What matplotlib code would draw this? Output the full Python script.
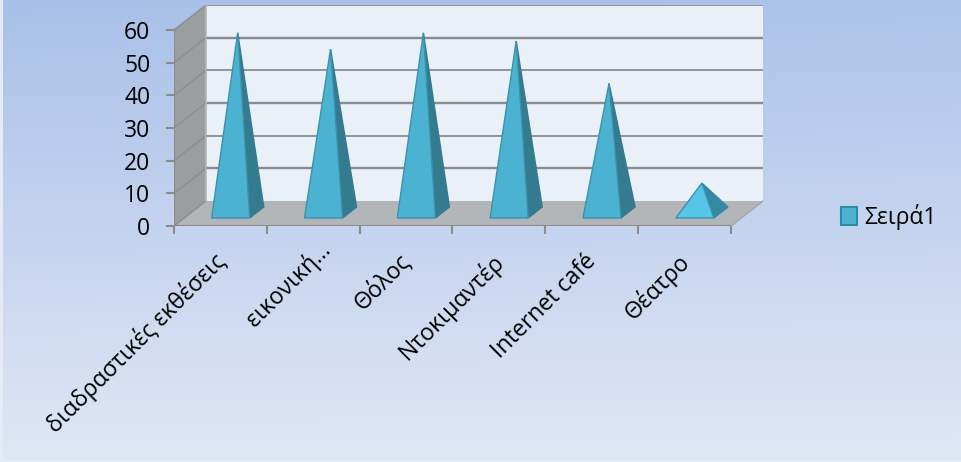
import matplotlib.pyplot as plt
import numpy as np
from matplotlib.patches import Patch, Polygon

plt.rcParams['font.family'] = ['Open Sans', 'Noto Sans', 'DejaVu Sans']

categories = ['διαδραστικές εκθέσεις', 'εικονική...', 'Θόλος', 'Ντοκιμαντέρ', 'Internet café', 'Θέατρο']
values = [55, 50, 55, 52.5, 39.5, 9]
y_ticks = [0, 10, 20, 30, 40, 50, 60]
series_name = 'Σειρά1'

W, H = 961, 462
# depth of the fake 3d box, in data units
depth_x = 32 / 92.83
depth_y = 25 / 3.267


def proj(x, y, d):
    # d = 0 front of the box, d = 1 back wall
    return x + d * depth_x, y + d * depth_y


fig = plt.figure(figsize=(W / 100, H / 100), dpi=100, facecolor='#e4eaf6')

# background gradient, slightly lighter towards the right
bg = fig.add_axes([3 / W, 2 / H, 957 / W, 460 / H], zorder=0)
gy = np.linspace(0, 1, 128).reshape(-1, 1)
gx = np.linspace(0, 1, 128).reshape(1, -1)
grad = np.clip(gy + 0.07 * gx * (1 - gy), 0, 1)[:, :, None]
top = np.array([0xa9, 0xc0, 0xe8]) / 255
bottom = np.array([0xdf, 0xe7, 0xf5]) / 255
bg.imshow(top + (bottom - top) * grad, aspect='auto')
bg.axis('off')

ax = fig.add_axes([174 / W, (H - 226) / H, 589 / W, 221 / H], zorder=1)
ax.patch.set_visible(False)
n = len(categories)
ax.set_xlim(0, n + depth_x)
ax.set_ylim(0, 60 + depth_y)
for s in ax.spines.values():
    s.set_visible(False)

ymax = max(y_ticks)
# walls
ax.add_patch(Polygon([proj(0, 0, 1), proj(n, 0, 1), proj(n, ymax, 1), proj(0, ymax, 1)],
                     fc='#e9f0f8', ec='none', zorder=1))
ax.add_patch(Polygon([proj(0, 0, 0), proj(0, 0, 1), proj(0, ymax, 1), proj(0, ymax, 0)],
                     fc='#9a9e9f', ec='none', zorder=1))
ax.add_patch(Polygon([proj(0, 0, 0), proj(n, 0, 0), proj(n, 0, 1), proj(0, 0, 1)],
                     fc='#b3b6b8', ec='none', zorder=1))

# gridlines
for t in y_ticks:
    xs, ys = zip(proj(0, t, 0), proj(0, t, 1))
    ax.plot(xs, ys, color='#8a8e8f', lw=1, zorder=2)
    xs, ys = zip(proj(0, t, 1), proj(n, t, 1))
    if t > 0:
        ax.plot(xs, ys, color='#8c8c8c', lw=1.7 if t % 20 else 1.3, zorder=2)
xs, ys = zip(proj(0, ymax, 0), proj(0, 0, 0), proj(n, 0, 0), proj(n, 0, 1))
ax.plot(xs[:3], ys[:3], color='#8c8c8c', lw=1.5, zorder=2)
ax.plot(xs[2:4], ys[2:4], color='#a8abad', lw=1.2, zorder=2)
ax.plot([proj(0, 0, 1)[0], proj(0, ymax, 1)[0]], [proj(0, 0, 1)[1], proj(0, ymax, 1)[1]],
        color='#b4b7b9', lw=1.2, zorder=2)

# pyramids
half = 0.205
d0, d1 = 0.32, 0.76
for i, v in enumerate(values):
    cx = i + 0.5
    front_col = '#4cb2d1' if v > 20 else '#55c6e7'
    side_col = '#347b90' if v > 20 else '#3589a3'
    apex = proj(cx, v, (d0 + d1) / 2)
    fl = proj(cx - half, 0, d0)
    fr = proj(cx + half, 0, d0)
    br = proj(cx + half, 0, d1)
    ax.add_patch(Polygon([fr, br, apex], fc=side_col, ec=side_col, lw=1, zorder=3))
    ax.add_patch(Polygon([fl, fr, apex], fc=front_col, ec='#3a93ad', lw=1, zorder=4))

ax.set_xticks(range(n + 1))
ax.set_xticklabels([])
ax.set_yticks(y_ticks)
ax.tick_params(axis='x', length=6, width=1.5, color='#8c8c8c')
ax.tick_params(axis='y', length=6, width=1.5, color='#8c8c8c', labelsize=16.5, pad=11, labelcolor='black')

for i, c in enumerate(categories):
    # the shortened label sits a bit further up and right
    off = (5, -11) if c.endswith('...') else (-8, -23)
    ax.annotate(c, xy=(i + 0.5, 0), xycoords='data', xytext=off, textcoords='offset pixels',
                rotation=45, rotation_mode='anchor', ha='right', va='top', fontsize=16.6, color='black',
                annotation_clip=False)

ax.legend(handles=[Patch(fc='#4cb2d1', ec='#2f8ba5', lw=1.5, label=series_name)],
          loc='center left', bbox_to_anchor=(841 / W, (H - 217) / H), bbox_transform=fig.transFigure,
          frameon=False, fontsize=16.5, handlelength=0.7, handleheight=0.8, handletextpad=0.3,
          borderpad=0, borderaxespad=0)

fig.savefig('out.png', dpi=100, facecolor=fig.get_facecolor())
